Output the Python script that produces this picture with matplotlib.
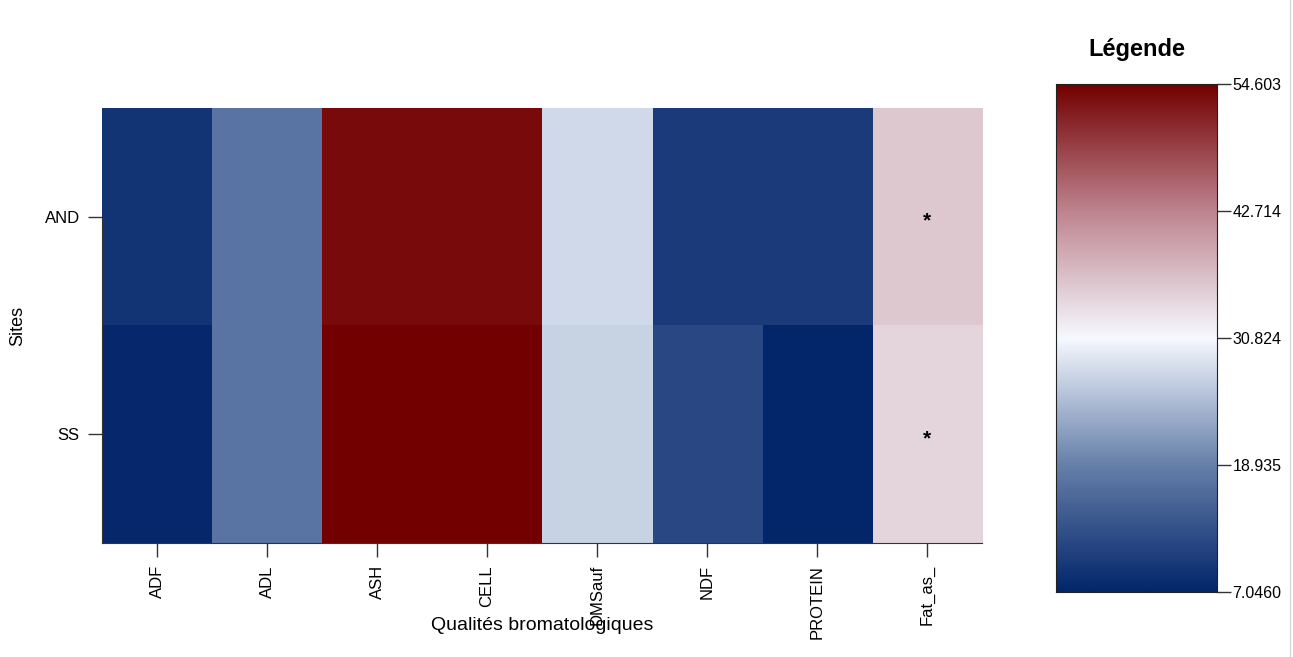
import numpy as np
import matplotlib.pyplot as plt
from matplotlib.colors import LinearSegmentedColormap
from matplotlib.lines import Line2D

# valeurs moyennes par site et par qualité bromatologique
sites = ["AND", "SS"]
qualites = ["ADF", "ADL", "ASH", "CELL", "DMSauf", "NDF", "PROTEIN", "Fat_as_"]
val_and = [9.0, 17.6, 53.6, 53.6, 27.8, 9.9, 10.0, 35.8]
val_ss = [7.5, 17.6, 54.603, 54.603, 27.0, 11.8, 7.046, 34.4]
etoiles = ["", "", "", "", "", "", "", "*"]

vmin, vmax = 7.046, 54.603
cb_ticks = np.linspace(vmin, vmax, 5)
cb_labels = ["7.0460", "18.935", "30.824", "42.714", "54.603"]

# palette bleu - blanc - rouge
palette = LinearSegmentedColormap.from_list(
    "bwr_fonce",
    [(0.0, "#03256A"), (0.25, "#6680AA"), (0.5, "#F6F9FF"),
     (0.75, "#BE848F"), (1.0, "#730000")])

plt.rcParams['font.family'] = ['Liberation Sans', 'DejaVu Sans']

W, H = 1293, 657
fig = plt.figure(figsize=(W / 100, H / 100), dpi=100)

ax = fig.add_axes([102 / W, 1 - 543 / H, 880 / W, 435 / H])
data = np.array([val_and, val_ss])
ax.imshow(data, cmap=palette, vmin=vmin, vmax=vmax, aspect="auto",
          interpolation="nearest")
for j, e in enumerate(etoiles):
    for i in range(len(sites)):
        if e:
            ax.text(j, i + 0.02, e, ha="center", va="center", fontsize=15,
                    fontweight="bold", color="black")

ax.set_xticks(range(len(qualites)))
ax.set_xticklabels(qualites, rotation=90, fontsize=12)
ax.set_yticks(range(len(sites)))
ax.set_yticklabels(sites, fontsize=12)
ax.tick_params(axis="both", direction="out", length=10, width=1,
               color="#333333", pad=6)
for s in ["top", "right"]:
    ax.spines[s].set_visible(False)
ax.spines["left"].set_bounds(0, 1.5)
ax.spines["left"].set_color("#333333")
ax.spines["bottom"].set_color("#333333")
ax.set_xlabel("Qualités bromatologiques", fontsize=14)
ax.xaxis.set_label_coords(0.5, -(617 - 543) / 435)
ax.set_ylabel("Sites", fontsize=13)
ax.yaxis.set_label_coords(-(102 - 26) / 880, 0.5)

# barre de couleurs
cax = fig.add_axes([1056 / W, 1 - 592 / H, 161 / W, 508 / H])
grad = np.linspace(vmin, vmax, 256).reshape(-1, 1)
cax.imshow(grad, cmap=palette, vmin=vmin, vmax=vmax, aspect="auto",
           origin="lower", extent=[0, 1, vmin, vmax])
cax.set_xticks([])
cax.yaxis.tick_right()
cax.set_yticks(cb_ticks)
cax.set_yticklabels(cb_labels, fontsize=11.5)
cax.set_ylim(vmin, vmax)
cax.tick_params(axis="y", direction="out", length=10, width=1,
                color="#333333", pad=1)
for s in cax.spines.values():
    s.set_color("#222222")
cax.set_title("Légende", fontsize=17, fontweight="bold", pad=20)

fig.add_artist(Line2D([1290 / W, 1290 / W], [0, 1], color="#d8d8d8",
                      linewidth=1))

fig.savefig("out.png", dpi=100)
